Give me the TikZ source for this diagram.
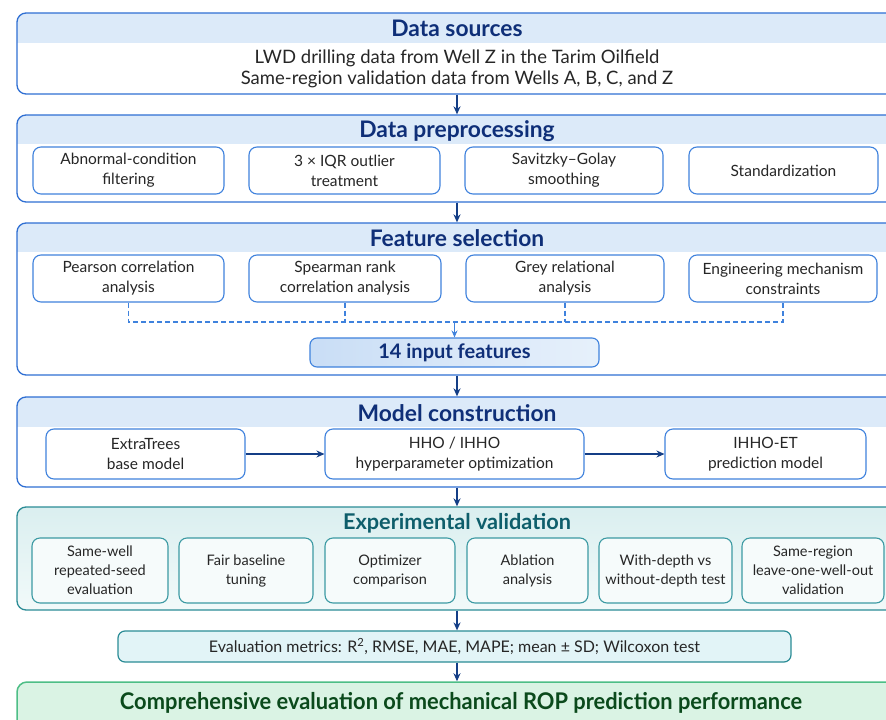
\documentclass[tikz,border=0pt]{standalone}
\usepackage{fontspec}
\setmainfont{Lato}
\newfontfamily\condfont[FakeStretch=0.95]{Lato}
\usetikzlibrary{arrows.meta,fit}

\definecolor{frameblue}{HTML}{2F6FD3}
\definecolor{bandblue}{HTML}{DCEAF9}
\definecolor{navy}{HTML}{143E86}
\definecolor{titlenavy}{HTML}{0F2F78}
\definecolor{boxblue}{HTML}{3F82DD}
\definecolor{textgray}{HTML}{262626}
\definecolor{tealframe}{HTML}{2B8C96}
\definecolor{tealfill}{HTML}{E8F6F6}
\definecolor{tealtitle}{HTML}{0E5E6B}
\definecolor{tealbox}{HTML}{3C9AA3}
\definecolor{metricfill}{HTML}{E2F4F7}
\definecolor{greenframe}{HTML}{4DBE86}
\definecolor{greenfill}{HTML}{DAF3E4}
\definecolor{greentext}{HTML}{0B4A1C}

\tikzset{
  x=1pt, y=-1pt,
  frame/.style={draw=frameblue, line width=1.3pt, rounded corners=9pt, inner sep=0pt},
  title/.style={font=\fontsize{22.8}{26}\selectfont\bfseries, text=titlenavy, inner sep=0pt},
  sub/.style={draw=boxblue, line width=1.1pt, rounded corners=8pt, fill=white,
    align=center, font=\fontsize{15.5}{20}\selectfont, text=textgray, inner sep=0pt},
  tealsub/.style={sub, draw=tealbox, fill=white!60!tealfill, font=\fontsize{14.5}{19}\selectfont},
  arr/.style={-{Stealth[length=8pt,width=7pt]}, draw=navy, line width=1.3pt},
  bus/.style={draw=boxblue, line width=1.1pt, dash pattern=on 5pt off 3pt},
}

% blue section frame with a tinted header band: name, top, bottom, band bottom
\newcommand{\blueframe}[4]{%
  \fill[white, rounded corners=9pt] (17,#2) rectangle (897,#3);
  \begin{scope}
    \clip[rounded corners=9pt] (17,#2) rectangle (897,#3);
    \fill[bandblue] (17,#2) rectangle (897,#4);
  \end{scope}
  \node[frame, fit={(17,#2) (897,#3)}] (#1) {};
}

\begin{document}
\begin{tikzpicture}
\useasboundingbox[fill=white] (0,0) rectangle (886,720);
\clip (0,0) rectangle (886,720);

% ---------- Data sources ----------
\blueframe{ds}{13}{94}{43}
\node[title] (dst) at (457,28) {Data sources};
\node[align=center, font=\fontsize{18.5}{21}\selectfont, text=textgray] (dsx) at (457,68.5)
  {LWD drilling data from Well Z in the Tarim Oilfield\\Same-region validation data from Wells A, B, C, and Z};

% ---------- Data preprocessing ----------
\blueframe{pp}{115}{202}{144}
\node[title] (ppt) at (457,131) {Data preprocessing};
\node[sub, minimum width=191pt, minimum height=47pt] (pp1) at (128.5,170.5) {Abnormal-condition\\filtering};
\node[sub, minimum width=191pt, minimum height=47pt] (pp2) at (344.5,170.5) {3 × IQR outlier\\treatment};
\node[sub, minimum width=198pt, minimum height=47pt] (pp3) at (564,170.5) {Savitzky–Golay\\smoothing};
\node[sub, minimum width=189pt, minimum height=47pt] (pp4) at (783.5,170.5) {Standardization};

% ---------- Feature selection ----------
\blueframe{fs}{223}{375}{252}
\node[title] (fst) at (457,238) {Feature selection};
\node[sub, minimum width=191pt, minimum height=47pt] (fs1) at (128.5,278.5) {Pearson correlation\\analysis};
\node[sub, minimum width=192pt, minimum height=47pt] (fs2) at (345,278.5) {Spearman rank\\correlation analysis};
\node[sub, minimum width=198pt, minimum height=47pt] (fs3) at (565,278.5) {Grey relational\\analysis};
\node[sub, minimum width=188pt, minimum height=47pt] (fs4) at (783,278.5) {Engineering mechanism\\constraints};
\node[draw=boxblue, line width=1.1pt, rounded corners=7pt, left color=bandblue!88!boxblue, right color=bandblue!70,
  minimum width=289pt, minimum height=29pt, inner sep=0pt,
  font=\fontsize{20}{22}\selectfont\bfseries, text=titlenavy] (fi) at (454.5,352.5) {14 input features};
\coordinate (busL) at (fs1.south |- 0,322);
\coordinate (busR) at (fs4.south |- 0,322);
\coordinate (busM) at (fi.north |- 0,322);
\draw[bus] (fs1.south) -- (busL) -- (busR) -- (fs4.south);
\draw[bus] (fs2.south) -- (fs2.south |- busL);
\draw[bus] (fs3.south) -- (fs3.south |- busL);
\draw[-{Stealth[length=7pt,width=6pt]}, draw=boxblue, line width=1.1pt] (busM) -- (fi.north);

% ---------- Model construction ----------
\blueframe{mc}{397}{487}{427}
\node[title] (mct) at (457,413) {Model construction};
\node[sub, minimum width=199pt, minimum height=50pt] (mc1) at (145.5,454) {ExtraTrees\\base model};
\node[sub, minimum width=259pt, minimum height=50pt] (mc2) at (454.5,454) {HHO / IHHO\\hyperparameter optimization};
\node[sub, minimum width=201pt, minimum height=50pt] (mc3) at (765.5,454) {IHHO-ET\\prediction model};
\draw[arr] (mc1) -- (mc2);
\draw[arr] (mc2) -- (mc3);

% ---------- Experimental validation ----------
\node[draw=tealframe, line width=1.3pt, rounded corners=9pt, inner sep=0pt,
  top color=tealfill!92!tealbox, bottom color=tealfill!60, fit={(17,507) (897,610)}] (ev) {};
\node[title, text=tealtitle, font=\fontsize{21.7}{25}\selectfont\bfseries] (evt) at (457,523) {Experimental validation};
\node[tealsub, minimum width=136pt, minimum height=65pt] (ev1) at (100,570.5) {Same-well\\repeated-seed\\evaluation};
\node[tealsub, minimum width=134pt, minimum height=65pt] (ev2) at (246,570.5) {Fair baseline\\tuning};
\node[tealsub, minimum width=130pt, minimum height=65pt] (ev3) at (390,570.5) {Optimizer\\comparison};
\node[tealsub, minimum width=121pt, minimum height=65pt] (ev4) at (527.5,570.5) {Ablation\\analysis};
\node[tealsub, minimum width=133pt, minimum height=65pt] (ev5) at (665.5,570.5) {With-depth vs\\without-depth test};
\node[tealsub, minimum width=142pt, minimum height=65pt] (ev6) at (813,570.5) {Same-region\\leave-one-well-out\\validation};

% ---------- Metrics and final evaluation ----------
\node[draw=tealframe, line width=1.2pt, rounded corners=7pt, fill=metricfill, inner sep=0pt,
  minimum width=673pt, minimum height=31pt, font=\fontsize{16}{18}\selectfont, text=textgray] (mt) at (454.5,646.5)
  {Evaluation metrics: R\textsuperscript{2}, RMSE, MAE, MAPE; mean ± SD; Wilcoxon test};
\node[draw=greenframe, line width=1.5pt, rounded corners=10pt, fill=greenfill, inner sep=0pt,
  fit={(17,682) (897,740)}] (fe) {};
\node[font=\condfont\fontsize{23}{26}\selectfont\bfseries, text=greentext, inner sep=0pt] (fet) at (461,703)
  {Comprehensive evaluation of mechanical ROP prediction performance};

% ---------- flow arrows ----------
\draw[arr] (ds.south) -- (pp.north);
\draw[arr] (pp.south) -- (fs.north);
\draw[arr] (fs.south) -- (mc.north);
\draw[arr] (mc.south) -- (ev.north);
\draw[arr] (ev.south) -- (ev.south |- mt.north);
\draw[arr] (ev.south |- mt.south) -- (ev.south |- fe.north);
\end{tikzpicture}
\end{document}
